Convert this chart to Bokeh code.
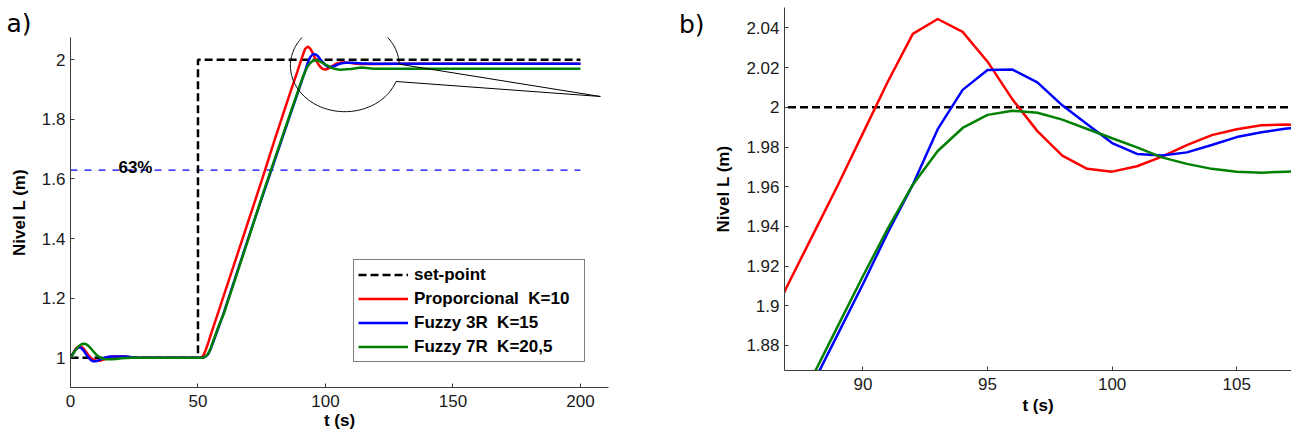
import numpy as np
from bokeh.plotting import figure
from bokeh.layouts import row, column
from bokeh.models import Range1d, FixedTicker, CustomJSTickFormatter, LinearAxis
from bokeh.core.properties import value
from bokeh.embed import file_html
from bokeh.resources import INLINE

# --- simulated tank level responses (time in s, level in m) ---
t_s = [0, 1, 2, 3, 4, 5, 6, 7, 8, 9, 10, 11, 12, 13, 14, 15, 16, 18, 20, 22, 24, 26,
       30, 40, 50, 51, 52, 53, 54, 55, 58, 60, 65, 70, 75, 80, 85,
       87, 88, 89, 90, 91, 92, 93, 94, 95, 96, 97, 98, 99, 100, 101, 102, 103,
       104, 105, 106, 107, 108, 110, 112, 114, 116, 118, 120, 130, 150, 200]

level_prop = [1.000, 1.015, 1.030, 1.037, 1.038, 1.032, 1.021, 1.009, 0.999, 0.993, 0.990,
              0.990, 0.991, 0.994, 0.998, 1.001, 1.003, 1.004, 1.004, 1.003, 1.001, 1.000,
              1.000, 1.000, 1.000, 1.000, 1.006, 1.025, 1.050, 1.077, 1.154, 1.206, 1.335,
              1.465, 1.595, 1.730, 1.860,
              1.911, 1.936, 1.961, 1.987, 2.013, 2.037, 2.0445, 2.038, 2.023, 2.004, 1.988,
              1.9757, 1.969, 1.9676, 1.9703, 1.9752, 1.981, 1.986, 1.989, 1.991, 1.9913,
              1.991, 1.989, 1.987, 1.986, 1.986, 1.986, 1.986, 1.987, 1.987, 1.987]

level_fz3 = [1.000, 1.014, 1.027, 1.034, 1.034, 1.026, 1.013, 1.001, 0.992, 0.988, 0.988,
             0.991, 0.995, 0.999, 1.002, 1.003, 1.004, 1.004, 1.004, 1.004, 1.002, 1.000,
             1.000, 1.000, 1.000, 1.000, 1.000, 1.004, 1.012, 1.030, 1.100, 1.148, 1.278,
             1.408, 1.535, 1.660, 1.786,
             1.836, 1.861, 1.886, 1.911, 1.937, 1.961, 1.989, 2.0088, 2.0188, 2.019, 2.0126,
             2.001, 1.9915, 1.982, 1.9765, 1.9757, 1.9773, 1.981, 1.985, 1.9874, 1.9893,
             1.990, 1.990, 1.989, 1.988, 1.988, 1.987, 1.987, 1.987, 1.987, 1.987]

level_fz7 = [1.000, 1.012, 1.026, 1.037, 1.044, 1.047, 1.046, 1.040, 1.031, 1.021, 1.011,
             1.004, 0.999, 0.996, 0.995, 0.995, 0.995, 0.996, 0.998, 0.999, 1.000, 1.000,
             1.000, 1.000, 1.000, 1.000, 1.000, 1.005, 1.014, 1.032, 1.104, 1.145, 1.275,
             1.405, 1.538, 1.665, 1.790,
             1.840, 1.865, 1.890, 1.915, 1.939, 1.961, 1.978, 1.9896, 1.9962, 1.9983, 1.9973,
             1.9938, 1.9891, 1.9844, 1.9798, 1.9748, 1.9715, 1.969, 1.9675, 1.9671, 1.9676,
             1.968, 1.969, 1.972, 1.974, 1.973, 1.971, 1.970, 1.970, 1.970, 1.970]

setpoint_t = [0, 50, 50, 200]
setpoint_y = [1, 1, 2, 2]

initial_level = 1.0
final_setpoint = 2.0
rise_fraction = 0.63
level_63 = initial_level + rise_fraction * (final_setpoint - initial_level)

labels = ["set-point", "Proporcional  K=10", "Fuzzy 3R  K=15", "Fuzzy 7R  K=20,5"]
colors = ["#000000", "#ff0000", "#0000ff", "#008000"]

x_ticks_a = [0, 50, 100, 150, 200]
y_ticks_a = [1, 1.2, 1.4, 1.6, 1.8, 2]
x_ticks_b = [90, 95, 100, 105]
y_ticks_b = [1.88, 1.9, 1.92, 1.94, 1.96, 1.98, 2, 2.02, 2.04]

# zoom callout (ellipse around the overshoot region, wedge pointing to panel b)
callout_center = (107.6, 1.980)
callout_radii = (21.35, 0.154)
callout_gap_deg = (-20.0, 2.0)
callout_tip = (207.8, 1.877)

FONT = "Liberation Sans"
TAG_FONT = "DejaVu Sans"
TICK_SIZE = "17px"
LABEL_SIZE = "17px"

fmt = CustomJSTickFormatter(code="return parseFloat(tick.toFixed(3)).toString();")


def style_axes(p, xt, yt):
    p.xaxis.ticker = FixedTicker(ticks=xt)
    p.yaxis.ticker = FixedTicker(ticks=yt)
    for ax in (p.xaxis[0], p.yaxis[0]):
        ax.formatter = fmt
        ax.axis_line_color = "#3c3c3c"
        ax.axis_line_width = 1
        ax.major_tick_line_color = "#3c3c3c"
        ax.major_tick_in = 4
        ax.major_tick_out = 0
        ax.minor_tick_line_color = None
        ax.major_label_text_font = FONT
        ax.major_label_text_font_size = TICK_SIZE
        ax.major_label_text_color = "#1a1a1a"
        ax.axis_label_text_font = FONT
        ax.axis_label_text_font_size = LABEL_SIZE
        ax.axis_label_text_font_style = "bold"
        ax.axis_label_text_color = "#000000"
    p.xaxis.major_label_standoff = 7
    p.yaxis.major_label_standoff = 5
    p.xaxis.axis_label_standoff = 3
    p.yaxis.axis_label_standoff = 10
    p.xgrid.visible = False
    p.ygrid.visible = False
    p.outline_line_color = None
    p.background_fill_color = "white"
    p.border_fill_color = "white"


def draw_series(p, with_legend):
    kw = dict(legend_label=labels[0]) if with_legend else {}
    p.line(setpoint_t, setpoint_y, line_color=colors[0], line_width=2.5,
           line_dash="8 4", **kw)
    for ys, lab, col in zip([level_prop, level_fz3, level_fz7], labels[1:], colors[1:]):
        kw = dict(legend_label=lab) if with_legend else {}
        p.line(t_s, ys, line_color=col, line_width=2.5, **kw)


# ---------------- panel a) ----------------
pa = figure(width=640, height=432, output_backend="svg", toolbar_location=None,
            x_range=Range1d(0, 211), y_range=Range1d(0.9, 2.075),
            min_border_left=70, min_border_right=32, min_border_top=37,
            min_border_bottom=45, x_axis_label="t (s)", y_axis_label="Nivel L (m)")
style_axes(pa, x_ticks_a, y_ticks_a)
pa.xaxis.axis_label_standoff = 1

# panel tag drawn as the plot title, pulled to the top-left corner
pa.title.text = "a)"
pa.title.align = "left"
pa.title.offset = -64
pa.title.standoff = 0
pa.title.text_font = TAG_FONT
pa.title.text_font_size = "25px"
pa.title.text_font_style = "normal"
pa.title.text_color = "#000000"

pa.line([0, 200], [level_63, level_63], line_color="#0000ff", line_width=1.2,
        line_dash="7 7")
draw_series(pa, True)

pa.text(x=[18.8], y=[level_63 + 0.01], text=["63%"], text_font=value(FONT),
        text_font_style="bold", text_font_size="17px", text_baseline="alphabetic",
        text_align="left", text_color="#000000")

# callout ellipse with an opening on the right side
cx, cy = callout_center
ra, rb = callout_radii
g0, g1 = np.deg2rad(callout_gap_deg[0]), np.deg2rad(callout_gap_deg[1])
theta = np.linspace(g1, g0 + 2 * np.pi, 200)
pa.line(cx + ra * np.cos(theta), cy + rb * np.sin(theta), line_color="black", line_width=1)
for g in (g1, g0):
    pa.line([cx + ra * np.cos(g), callout_tip[0]], [cy + rb * np.sin(g), callout_tip[1]],
            line_color="black", line_width=1)

leg = pa.legend[0]
leg.location = (283, 25)
leg.border_line_color = "black"
leg.border_line_width = 1
leg.background_fill_color = "white"
leg.background_fill_alpha = 1
leg.padding = 4
leg.spacing = 3
leg.margin = 0
leg.label_height = 21
leg.glyph_height = 21
leg.glyph_width = 50
leg.label_standoff = 6
leg.label_width = 166
leg.label_text_font = FONT
leg.label_text_font_size = "17px"
leg.label_text_font_style = "bold"
leg.label_text_color = "#000000"

# ---------------- panel b) ----------------
pb = figure(width=651, height=432, output_backend="svg", toolbar_location=None,
            x_range=Range1d(86.85, 107.2), y_range=Range1d(1.8674, 2.0503),
            min_border_left=144, min_border_right=0, min_border_top=7,
            min_border_bottom=62, x_axis_label="t (s)", y_axis_label="Nivel L (m)")
style_axes(pb, x_ticks_b, y_ticks_b)
draw_series(pb, False)

# panel tag carried by a bare outer axis on the left, aligned to the top end;
# the leading blank line drops it just below the frame's top edge
tag_axis = LinearAxis(axis_label="\nb)", ticker=FixedTicker(ticks=[]),
                      axis_line_color=None, major_tick_line_color=None,
                      minor_tick_line_color=None, major_label_standoff=0,
                      axis_label_standoff=7, axis_label_orientation="horizontal",
                      axis_label_text_font=TAG_FONT, axis_label_text_font_size="25px",
                      axis_label_text_font_style="normal",
                      axis_label_text_color="#000000")
if "axis_label_align" in tag_axis.properties():
    tag_axis.axis_label_align = "end"
pb.add_layout(tag_axis, "left")

layout = row(column(pa), column(pb))
open("out.html", "w").write(file_html(layout, INLINE))
